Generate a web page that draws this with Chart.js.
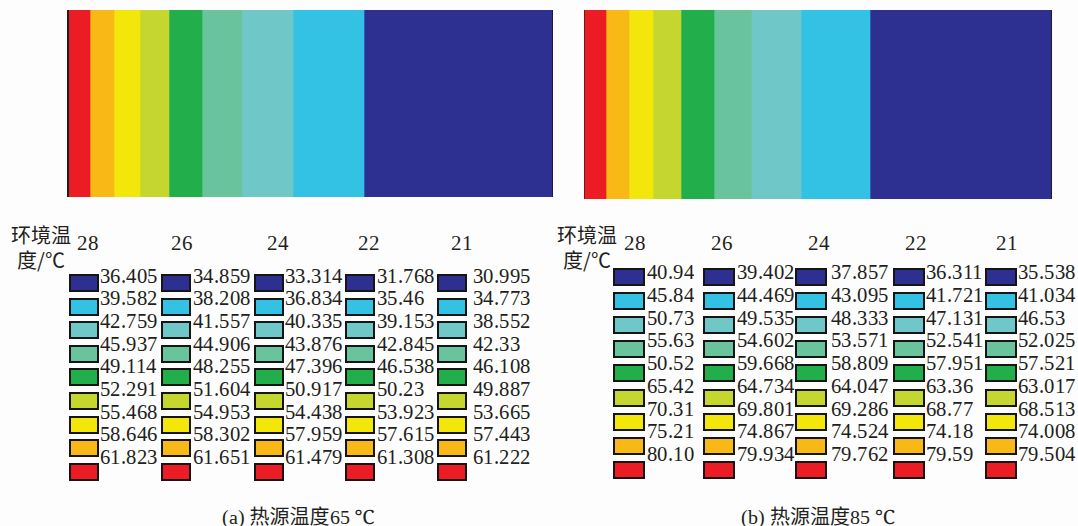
<!DOCTYPE html>
<html>
<head>
<meta charset="utf-8">
<script src="https://cdn.jsdelivr.net/npm/chart.js@4/dist/chart.umd.min.js"></script>
<style>
  @font-face {
    font-family: "LegendSerif";
    src: local("Liberation Serif"), local("LiberationSerif"), local("LiberationSerif-Regular"),
         local("DejaVu Serif"), local("DejaVuSerif"), local("Tinos"), local("Noto Serif"), local("FreeSerif");
  }
  html, body { margin: 0; padding: 0; }
  body { width: 1078px; height: 526px; background: #fdfdfd; position: relative; overflow: hidden; color: #231f20;
         font-family: "LegendSerif", "Liberation Serif", "Tinos", "Noto Serif", "DejaVu Serif", "FreeSerif", "Times New Roman", serif; }
  .panel { position: absolute; }
  .panel canvas { display: block; }
  .abs { position: absolute; white-space: nowrap; }
  .val { font-size: 22px; line-height: 22px; height: 22px; transform: scaleX(0.94); transform-origin: left center; }
  .hdr { font-size: 21px; line-height: 22px; height: 22px; text-align: center; width: 40px; }
  .cjk { font-family: "Noto Sans CJK SC", sans-serif; font-size: 20px; line-height: 22px; height: 22px; text-align: center; width: 80px; }
  .box { box-sizing: border-box; border: 2px solid #151515; }
  .cap { font-size: 20px; line-height: 24px; height: 24px; text-align: center; width: 240px; }
  .cap .zh { font-family: "Noto Sans CJK SC", sans-serif; }
</style>
</head>
<body>
<div id="panelA" class="panel" style="left:67px; top:10px; border-left:2px solid #1e1e1e; border-right:1px solid #1a1a3a;">
  <canvas id="fieldA" width="483" height="187"></canvas>
</div>
<div id="panelB" class="panel" style="left:584px; top:10px; border-left:1px solid #6a1a1a; border-right:1px solid #1a1a3a;">
  <canvas id="fieldB" width="466" height="189"></canvas>
</div>
<div id="legends"></div>

<script>
// Contour colours, from the hot side (left) to the cold side (right)
const bandColors = ['#ec1c24', '#f8b917', '#f2e60b', '#c5d72e', '#22ae4b', '#69c39c', '#70c7c7', '#33c1e4', '#2d3091'];

// Band edges across the section width (% of width), heat source at 0
const edgesHeat65 = [0, 4.35, 9.32, 14.70, 20.70, 27.54, 35.82, 46.38, 61.08, 100];
const edgesHeat85 = [0, 4.51, 9.44, 14.59, 20.60, 27.68, 35.73, 46.35, 61.16, 100];

// Ambient temperatures (°C), one legend column each
const ambientTemps = ['28', '26', '24', '22', '21'];

// Contour levels (°C), listed from the cold colour to the hot colour
const levels65 = [
  ['36.405', '39.582', '42.759', '45.937', '49.114', '52.291', '55.468', '58.646', '61.823'],
  ['34.859', '38.208', '41.557', '44.906', '48.255', '51.604', '54.953', '58.302', '61.651'],
  ['33.314', '36.834', '40.335', '43.876', '47.396', '50.917', '54.438', '57.959', '61.479'],
  ['31.768', '35.46', '39.153', '42.845', '46.538', '50.23', '53.923', '57.615', '61.308'],
  ['30.995', '34.773', '38.552', '42.33', '46.108', '49.887', '53.665', '57.443', '61.222']
];
const levels85 = [
  ['40.94', '45.84', '50.73', '55.63', '50.52', '65.42', '70.31', '75.21', '80.10'],
  ['39.402', '44.469', '49.535', '54.602', '59.668', '64.734', '69.801', '74.867', '79.934'],
  ['37.857', '43.095', '48.333', '53.571', '58.809', '64.047', '69.286', '74.524', '79.762'],
  ['36.311', '41.721', '47.131', '52.541', '57.951', '63.36', '68.77', '74.18', '79.59'],
  ['35.538', '41.034', '46.53', '52.025', '57.521', '63.017', '68.513', '74.008', '79.504']
];

const captions = ['(a) 热源温度65 ℃', '(b) 热源温度85 ℃'];

// Temperature field: one horizontal category, one floating bar per contour band
function drawField(id, edges) {
  new Chart(document.getElementById(id), {
    type: 'bar',
    data: {
      labels: ['截面'],
      datasets: bandColors.map((c, i) => ({
        data: [[edges[i], edges[i + 1]]],
        backgroundColor: c,
        borderWidth: 0,
        barPercentage: 1,
        categoryPercentage: 1,
        grouped: false
      }))
    },
    options: {
      indexAxis: 'y',
      responsive: false,
      animation: false,
      events: [],
      layout: { padding: 0 },
      plugins: { legend: { display: false }, tooltip: { enabled: false } },
      scales: {
        x: { type: 'linear', min: 0, max: 100, display: false },
        y: { display: false }
      }
    }
  });
}
drawField('fieldA', edgesHeat65);
drawField('fieldB', edgesHeat85);

// Legend blocks under each field
const layouts = [
  {
    levels: levels65,
    boxLeft: [69, 161, 254, 345, 437], boxW: 30, boxTop: 274, boxPitch: 23.6,
    textLeft: [100, 193, 285, 377, 473], textTop: 275.5, textPitch: 22.7,
    hdrCenter: [88, 182, 278, 369, 462], labelCenter: 41, capCenter: 298
  },
  {
    levels: levels85,
    boxLeft: [613, 703, 795, 893, 985], boxW: 32, boxTop: 268, boxPitch: 24.1,
    textLeft: [647, 737, 831, 926, 1018], textTop: 272, textPitch: 22.75,
    hdrCenter: [635, 722, 819, 916, 1007], labelCenter: 587, capCenter: 818
  }
];

const host = document.getElementById('legends');
function add(cls, html, style) {
  const d = document.createElement('div');
  d.className = cls;
  d.innerHTML = html;
  d.setAttribute('style', style);
  host.appendChild(d);
  return d;
}

layouts.forEach((L, p) => {
  add('abs cjk', '环境温', `left:${L.labelCenter - 40}px; top:${235 - 11}px;`);
  add('abs cjk', '度/℃', `left:${L.labelCenter - 40}px; top:${260 - 11}px;`);
  ambientTemps.forEach((t, c) => {
    add('abs hdr', t, `left:${L.hdrCenter[c] - 20}px; top:${243 - 11}px;`);
    const colours = bandColors.slice().reverse();
    L.levels[c].forEach((v, k) => {
      add('abs box', '', `left:${L.boxLeft[c]}px; top:${(L.boxTop + k * L.boxPitch).toFixed(1)}px; width:${L.boxW}px; height:18px; background:${colours[k]};`);
      add('abs val', v, `left:${L.textLeft[c]}px; top:${(L.textTop + k * L.textPitch - 11).toFixed(1)}px;`);
    });
  });
  const cap = captions[p].replace('热源温度', '<span class="zh">热源温度</span>');
  add('abs cap', cap, `left:${L.capCenter - 120}px; top:${516 - 12}px;`);
});
</script>
</body>
</html>
